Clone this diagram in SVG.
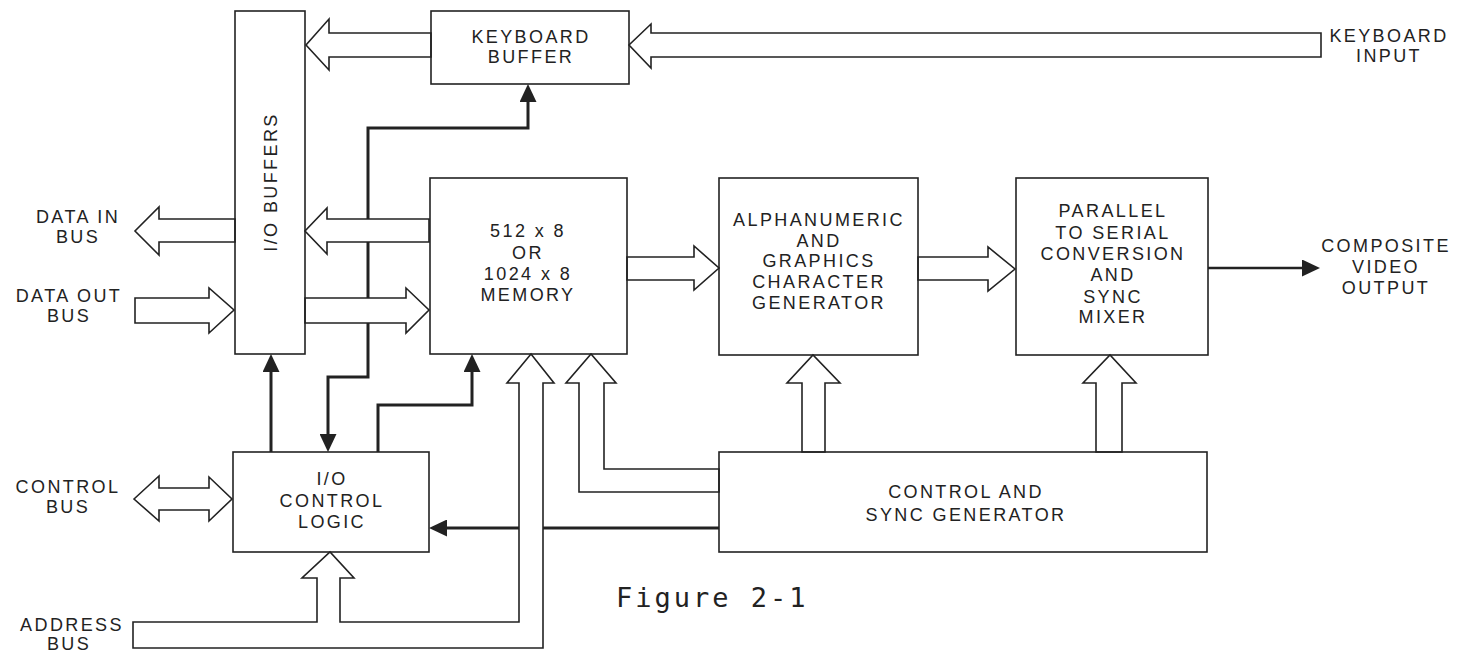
<svg xmlns="http://www.w3.org/2000/svg" width="1467" height="653" viewBox="0 0 1467 653">
<style>
.box{fill:none;stroke:#222;stroke-width:1.6}
.bus{fill:#fff;stroke:#222;stroke-width:1.6;stroke-linejoin:miter}
.sig{fill:none;stroke:#222;stroke-width:3}
.t{font-family:"Liberation Sans",Arial,sans-serif;font-size:18px;letter-spacing:2.4px;fill:#222;text-anchor:middle}
.fig{font-family:"DejaVu Sans Mono","Liberation Mono",monospace;font-size:27px;letter-spacing:3px;fill:#222}
</style>
<defs>
<marker id="ah" viewBox="0 0 18 17" refX="14" refY="8.5" markerWidth="18" markerHeight="17" markerUnits="userSpaceOnUse" orient="auto-start-reverse">
<path d="M0,0 L18,8.5 L0,17 z" fill="#222"/>
</marker>
</defs>
<rect width="1467" height="653" fill="#fff"/>
<g id="connectors">
<path class="sig" d="M378 452 V405 H472 V358" marker-end="url(#ah)"/>
<path class="sig" d="M271 452 V358" marker-end="url(#ah)"/>
<path class="sig" d="M328 448 V377 H368 V128 H528 V88" marker-start="url(#ah)" marker-end="url(#ah)"/>
<path class="sig" d="M719 528 H433" marker-end="url(#ah)"/>
<path class="sig" style="stroke-width:2.5" d="M1208 268 H1316" marker-end="url(#ah)"/>
<polygon class="bus" points="431,33 329,33 329,19 306,45 329,70 329,57 431,57"/>
<polygon class="bus" points="1321,33 651,33 651,24 629,45 651,68 651,57 1321,57"/>
<polygon class="bus" points="429,219 327,219 327,208 305,231 327,254 327,242 429,242"/>
<polygon class="bus" points="235,219 159,219 159,207 135,231 159,255 159,242 235,242"/>
<polygon class="bus" points="135,298 209,298 209,288 234,310 209,333 209,323 135,323"/>
<polygon class="bus" points="305,298 406,298 406,288 429,310 406,333 406,323 305,323"/>
<polygon class="bus" points="627,257 694,257 694,246 719,268 694,290 694,280 627,280"/>
<polygon class="bus" points="918,257 988,257 988,247 1015,269 988,291 988,280 918,280"/>
<polygon class="bus" points="134,499 159,476 159,488 209,488 209,477 232,499 209,521 209,510 159,510 159,521"/>
<polygon class="bus" points="133,622 317,622 317,578 302,578 330,552 354,578 340,578 340,622 519,622 519,383 507,383 531,354 554,383 543,383 543,648 133,648"/>
<polygon class="bus" points="719,469 604,469 604,383 616,383 591,354 566,383 579,383 579,492 719,492"/>
<polygon class="bus" points="802,452 802,383 787,383 813,355 840,383 825,383 825,452"/>
<polygon class="bus" points="1096,452 1096,383 1083,383 1110,355 1136,383 1122,383 1122,452"/>
</g>
<g id="io-buffers">
<rect class="box" x="235" y="11" width="70" height="343"/>
<text class="t" transform="translate(277,182) rotate(-90)" x="0" y="0">I/O BUFFERS</text>
</g>
<g id="keyboard-buffer">
<rect class="box" x="431" y="11" width="198" height="73"/>
<text class="t" x="531" y="43">KEYBOARD</text>
<text class="t" x="531" y="63">BUFFER</text>
</g>
<g id="memory">
<rect class="box" x="430" y="178" width="197" height="176"/>
<text class="t" x="528" y="237">512 x 8</text>
<text class="t" x="528" y="259">OR</text>
<text class="t" x="528" y="280">1024 x 8</text>
<text class="t" x="528" y="301">MEMORY</text>
</g>
<g id="char-generator">
<rect class="box" x="719" y="178" width="199" height="177"/>
<text class="t" x="819" y="226">ALPHANUMERIC</text>
<text class="t" x="819" y="247">AND</text>
<text class="t" x="819" y="267">GRAPHICS</text>
<text class="t" x="819" y="288">CHARACTER</text>
<text class="t" x="819" y="309">GENERATOR</text>
</g>
<g id="parallel-serial">
<rect class="box" x="1016" y="178" width="192" height="177"/>
<text class="t" x="1113" y="217">PARALLEL</text>
<text class="t" x="1113" y="239">TO SERIAL</text>
<text class="t" x="1113" y="260">CONVERSION</text>
<text class="t" x="1113" y="281">AND</text>
<text class="t" x="1113" y="303">SYNC</text>
<text class="t" x="1113" y="323">MIXER</text>
</g>
<g id="io-control">
<rect class="box" x="233" y="452" width="196" height="100"/>
<text class="t" x="332" y="485">I/O</text>
<text class="t" x="332" y="507">CONTROL</text>
<text class="t" x="332" y="528">LOGIC</text>
</g>
<g id="control-sync">
<rect class="box" x="719" y="452" width="488" height="100"/>
<text class="t" x="966" y="498">CONTROL AND</text>
<text class="t" x="966" y="521">SYNC GENERATOR</text>
</g>
<g id="labels">
<text class="t" x="1389" y="42">KEYBOARD</text>
<text class="t" x="1389" y="62">INPUT</text>
<text class="t" x="78" y="223">DATA IN</text>
<text class="t" x="78" y="243">BUS</text>
<text class="t" x="69" y="302">DATA OUT</text>
<text class="t" x="69" y="322">BUS</text>
<text class="t" x="68" y="493">CONTROL</text>
<text class="t" x="68" y="513">BUS</text>
<text class="t" x="72" y="631">ADDRESS</text>
<text class="t" x="69" y="650">BUS</text>
<text class="t" x="1386" y="252">COMPOSITE</text>
<text class="t" x="1386" y="273">VIDEO</text>
<text class="t" x="1386" y="294">OUTPUT</text>
<text class="fig" x="616" y="607">Figure 2-1</text>
</g>
</svg>
